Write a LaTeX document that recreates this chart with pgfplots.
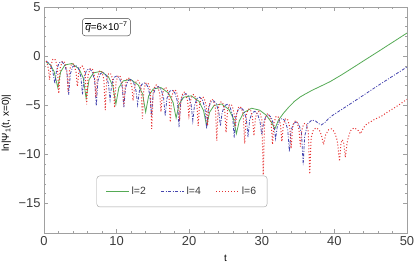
\documentclass[border=0pt]{standalone}
\usepackage{fontspec}
\setmainfont{Liberation Sans}
\usepackage{pgfplots}
\pgfplotsset{compat=1.18}
\definecolor{cgreen}{RGB}{85,170,85}
\definecolor{cblue}{RGB}{70,70,175}
\definecolor{cred}{RGB}{230,50,50}
\definecolor{cframe}{RGB}{160,160,160}
\definecolor{ctext}{RGB}{60,60,60}
\begin{document}
\begin{tikzpicture}
\begin{axis}[
  scale only axis, width=363bp, height=226bp,
  xmin=0, xmax=50, ymin=-18, ymax=5,
  xtick={0,10,20,30,40,50},
  ytick={-15,-10,-5,0,5},
  yticklabels={−15,−10,−5,0,5},
  minor x tick num=4, minor y tick num=4,
  tick align=inside,
  major tick length=4bp, minor tick length=2bp,
  axis line style={cframe},
  every tick/.style={cframe},
  tick label style={font=\fontsize{13}{15}\selectfont, text=ctext},
  /pgf/number format/assume math mode=true,
  xlabel={t}, ylabel={ln|Ψ\textsubscript{1}(t, x=0)|},
  label style={font=\fontsize{15.5}{17}\selectfont, text=ctext},
  every axis x label/.style={at={(axis description cs:0.5,-0.11)}, anchor=center},
  every axis y label/.style={at={(axis description cs:-0.104,0.487)}, rotate=90, anchor=center},
  legend columns=3,
  legend style={at={(rel axis cs:0.380,0.184)}, anchor=center, draw=cframe, rounded corners=3bp,
    font=\fontsize{10.5}{12}\selectfont, text=ctext, inner xsep=9bp, inner ysep=9bp,
    /tikz/every even column/.append style={column sep=13bp}},
  legend image code/.code={\draw[#1] (0bp,0bp) -- (23bp,0bp);},
]
\addplot[cgreen, line width=0.8bp] coordinates {
(0.3,-0.6) (0.9,-0.9) (1.4,-1.6) (1.9,-3.2)
(2.29,-1.61) (2.875,-0.9) (3.85,-0.75) (4.825,-1.3) (5.41,-2.23) (5.8,-4.3)
(6.21,-2.39) (6.825,-1.7) (7.85,-1.55) (8.875,-2.1) (9.49,-3.05) (9.9,-4.9)
(10.31,-3.21) (10.925,-2.52) (11.95,-2.37) (12.975,-2.93) (13.59,-3.87) (14.0,-5.7)
(14.42,-4.03) (15.05,-3.34) (16.1,-3.2) (17.15,-3.76) (17.78,-4.71) (18.2,-6.3)
(18.62,-4.87) (19.25,-4.18) (20.3,-4.04) (21.35,-4.6) (21.98,-5.55) (22.4,-7.1)
(22.81,-5.71) (23.425,-5.02) (24.45,-4.87) (25.475,-5.43) (26.09,-6.37) (26.5,-7.9)
(26.9,-6.6) (27.5,-5.75) (28.6,-5.3) (29.7,-5.5) (30.6,-6.0) (31.3,-6.7) (31.8,-7.4)
(32.3,-6.5) (33.0,-5.8) (33.7,-5.2) (34.5,-4.6) (35.3,-4.15) (36.0,-3.85) (37.0,-3.45)
(38.0,-3.1) (39.4,-2.6) (41.0,-1.9) (42.5,-1.2) (44.4,-0.3) (46.0,0.45) (48.0,1.4) (50.0,2.35)
};
\addlegendentry{l=2}
\addplot[cblue, line width=0.8bp, dash pattern=on 3bp off 1.5bp on 1bp off 1.5bp] coordinates {
(0.3,-0.5) (0.8,-0.8) (1.2,-1.5) (1.5,-2.8)
(1.728,-1.43) (2.07,-0.70) (2.45,-0.57) (2.83,-0.85) (3.172,-1.70) (3.4,-3.95)
(3.628,-1.79) (3.97,-1.06) (4.35,-0.93) (4.73,-1.21) (5.072,-2.06) (5.3,-3.91)
(5.528,-2.15) (5.87,-1.43) (6.25,-1.29) (6.63,-1.57) (6.972,-2.43) (7.2,-5.07)
(7.428,-2.51) (7.77,-1.79) (8.15,-1.65) (8.53,-1.93) (8.872,-2.79) (9.1,-4.43)
(9.328,-2.87) (9.67,-2.15) (10.05,-2.01) (10.43,-2.29) (10.772,-3.15) (11.0,-5.19)
(11.228,-3.23) (11.57,-2.51) (11.95,-2.37) (12.33,-2.65) (12.672,-3.51) (12.9,-4.95)
(13.128,-3.59) (13.47,-2.87) (13.85,-2.73) (14.23,-3.01) (14.572,-3.87) (14.8,-6.11)
(15.028,-3.96) (15.37,-3.23) (15.75,-3.09) (16.13,-3.38) (16.472,-4.23) (16.7,-6.07)
(16.928,-4.32) (17.27,-3.59) (17.65,-3.45) (18.03,-3.74) (18.372,-4.59) (18.6,-7.23)
(18.828,-4.68) (19.17,-3.95) (19.55,-3.81) (19.93,-4.10) (20.272,-4.95) (20.5,-6.6)
(20.728,-5.04) (21.07,-4.31) (21.45,-4.18) (21.83,-4.46) (22.172,-5.31) (22.4,-7.36)
(22.628,-5.40) (22.97,-4.67) (23.35,-4.54) (23.73,-4.82) (24.072,-5.67) (24.3,-7.12)
(24.528,-5.76) (24.87,-5.04) (25.25,-4.90) (25.63,-5.18) (25.972,-6.04) (26.2,-8.28)
(26.428,-6.12) (26.77,-5.40) (27.15,-5.26) (27.53,-5.54) (27.872,-6.40) (28.1,-8.24)
(28.328,-6.48) (28.67,-5.76) (29.05,-5.62) (29.43,-5.90) (29.772,-6.76) (30.0,-8.0)
(30.228,-6.84) (30.57,-6.12) (30.95,-5.98) (31.33,-6.26) (31.672,-7.12) (31.9,-8.4)
(32.128,-7.2) (32.47,-6.48) (32.85,-6.34) (33.23,-6.62) (33.572,-7.48) (33.8,-9.7)
(34.028,-7.57) (34.37,-6.84) (34.75,-6.70) (35.13,-6.99) (35.472,-7.84) (35.7,-11.1)
(35.9,-8.2) (36.3,-6.9) (36.9,-6.5) (37.4,-6.6) (37.8,-6.85) (38.2,-7.0) (38.7,-6.75)
(39.2,-6.35) (39.8,-6.0) (42.0,-4.95) (44.0,-3.98) (46.0,-3.0) (48.0,-2.05) (50.0,-1.1)
};
\addlegendentry{l=4}
\addplot[cred, line width=1bp, dash pattern=on 1bp off 2bp] coordinates {
(0.3,-0.5) (0.5,-0.9) (0.65,-1.5) (0.76,-2.4)
(0.952,-0.97) (1.208,-0.34) (1.4,-0.27) (1.592,-0.42) (1.848,-1.14) (2.04,-3.79)
(2.232,-1.21) (2.488,-0.59) (2.68,-0.51) (2.872,-0.66) (3.128,-1.39) (3.32,-3.63)
(3.512,-1.46) (3.768,-0.83) (3.96,-0.75) (4.152,-0.90) (4.408,-1.63) (4.6,-3.07)
(4.792,-1.70) (5.048,-1.07) (5.24,-1.00) (5.432,-1.15) (5.688,-1.87) (5.88,-4.92)
(6.072,-1.94) (6.328,-1.32) (6.52,-1.24) (6.712,-1.39) (6.968,-2.11) (7.16,-4.16)
(7.352,-2.19) (7.608,-1.56) (7.8,-1.48) (7.992,-1.63) (8.248,-2.36) (8.44,-5.5)
(8.632,-2.43) (8.888,-1.80) (9.08,-1.73) (9.272,-1.88) (9.528,-2.60) (9.72,-5.25)
(9.912,-2.67) (10.168,-2.05) (10.36,-1.97) (10.552,-2.12) (10.808,-2.84) (11.0,-5.09)
(11.192,-2.92) (11.448,-2.29) (11.64,-2.21) (11.832,-2.36) (12.088,-3.09) (12.28,-4.53)
(12.472,-3.16) (12.728,-2.53) (12.92,-2.46) (13.112,-2.61) (13.368,-3.33) (13.56,-6.38)
(13.752,-3.40) (14.008,-2.78) (14.2,-2.70) (14.392,-2.85) (14.648,-3.57) (14.84,-7.4)
(15.032,-3.65) (15.288,-3.02) (15.48,-2.94) (15.672,-3.09) (15.928,-3.82) (16.12,-5.66)
(16.312,-3.89) (16.568,-3.26) (16.76,-3.19) (16.952,-3.34) (17.208,-4.06) (17.4,-6.71)
(17.592,-4.13) (17.848,-3.51) (18.04,-3.43) (18.232,-3.58) (18.488,-4.30) (18.68,-6.55)
(18.872,-4.38) (19.128,-3.75) (19.32,-3.67) (19.512,-3.82) (19.768,-4.55) (19.96,-5.99)
(20.152,-4.62) (20.408,-3.99) (20.6,-3.91) (20.792,-4.07) (21.048,-4.79) (21.24,-7.1)
(21.432,-4.86) (21.688,-4.24) (21.88,-4.16) (22.072,-4.31) (22.328,-5.03) (22.52,-7.08)
(22.712,-5.11) (22.968,-4.48) (23.16,-4.40) (23.352,-4.55) (23.608,-5.28) (23.8,-8.6)
(23.992,-5.35) (24.248,-4.72) (24.44,-4.64) (24.632,-4.80) (24.888,-5.52) (25.08,-7.77)
(25.272,-5.59) (25.528,-4.97) (25.72,-4.89) (25.912,-5.04) (26.168,-5.76) (26.36,-7.21)
(26.552,-5.83) (26.808,-5.21) (27.0,-5.13) (27.192,-5.28) (27.448,-6.01) (27.64,-8.9)
(27.832,-6.08) (28.088,-5.45) (28.28,-5.37) (28.472,-5.53) (28.728,-6.25) (28.92,-8.1)
(29.112,-6.32) (29.368,-5.70) (29.56,-5.62) (29.752,-5.77) (30.008,-6.49) (30.2,-12.1)
(30.392,-6.56) (30.648,-5.94) (30.84,-5.86) (31.032,-6.01) (31.288,-6.74) (31.48,-8.98)
(31.672,-6.81) (31.928,-6.18) (32.12,-6.10) (32.312,-6.25) (32.568,-6.98) (32.76,-8.7)
(32.952,-7.05) (33.208,-6.42) (33.4,-6.35) (33.592,-6.50) (33.848,-7.22) (34.04,-9.4)
(34.232,-7.29) (34.488,-6.67) (34.68,-6.59) (34.872,-6.74) (35.128,-7.47) (35.32,-9.2)
(35.512,-7.54) (35.768,-6.91) (35.96,-6.83) (36.152,-6.98) (36.408,-7.71) (36.6,-12.0)
(36.8,-8.3) (37.1,-7.5) (37.5,-7.3) (37.9,-7.5) (38.2,-8.0) (38.5,-9.0) (38.8,-8.0)
(39.2,-7.5) (39.6,-7.4) (40.0,-7.7) (40.4,-8.6) (40.7,-10.7) (40.9,-8.9) (41.1,-8.5)
(41.3,-8.9) (41.5,-10.3) (41.8,-8.6) (42.2,-7.6) (42.7,-7.3) (43.2,-7.5) (43.6,-7.9)
(44.0,-7.3) (44.4,-6.95) (45.5,-6.45) (46.5,-6.1) (47.2,-5.75) (48.5,-5.15) (50.0,-4.4)
};
\addlegendentry{l=6}
\node[draw=ctext, rounded corners=3bp, inner xsep=3bp, inner ysep=3.5bp, text=black,
  font=\fontsize{10}{12}\selectfont] at (axis cs:8.6,2.95)
  {\(\overline{\mbox{\itshape q}}\)=6×10\textsuperscript{−7}};
\end{axis}
\pgfresetboundingbox
\path (-44bp,-35bp) rectangle (371bp,233bp);
\end{tikzpicture}
\end{document}
